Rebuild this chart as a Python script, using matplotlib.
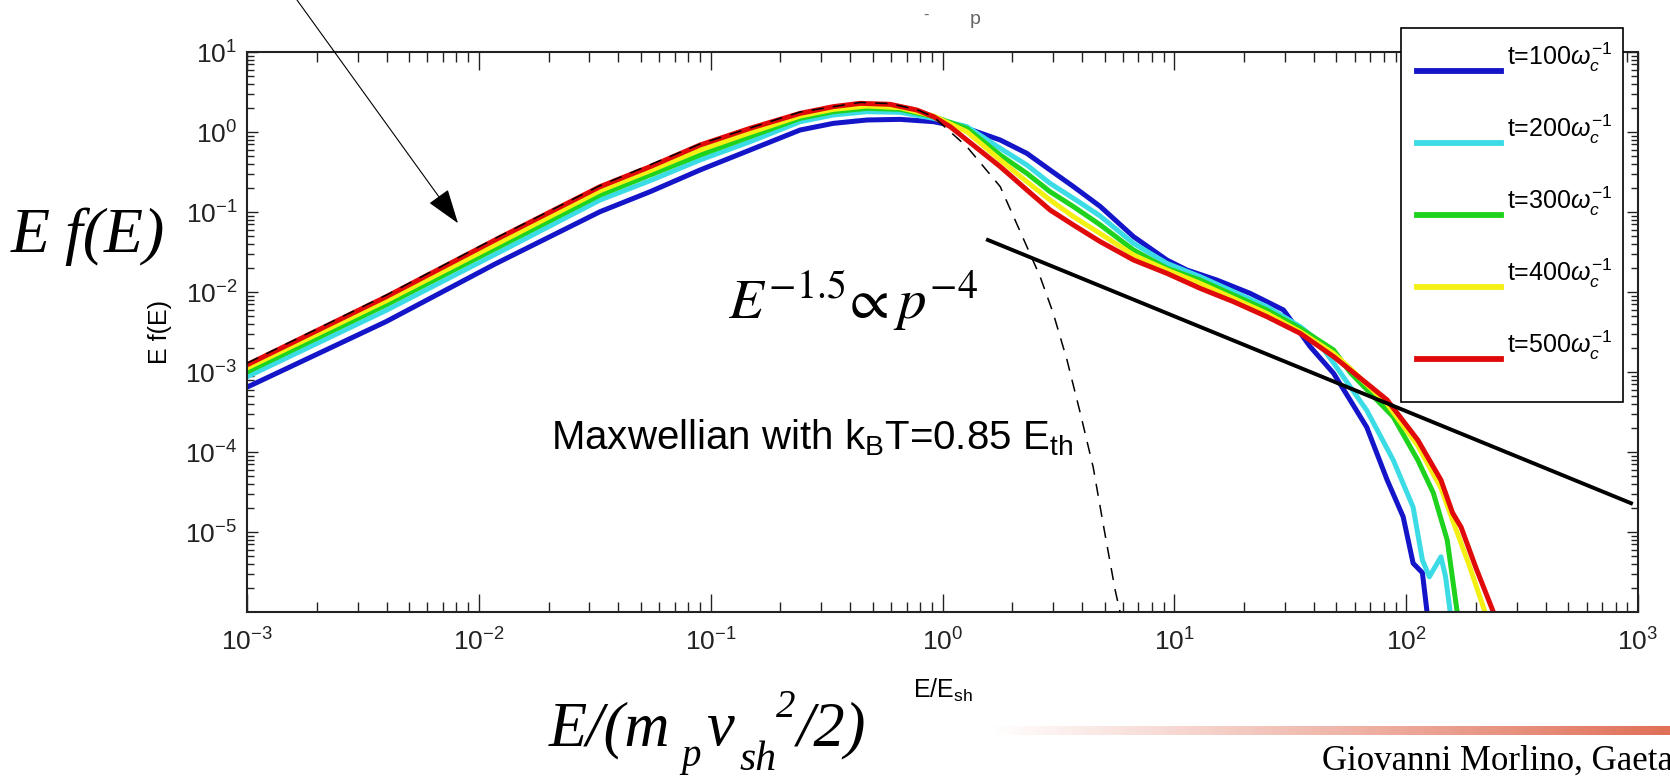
import numpy as np
import matplotlib
matplotlib.use("Agg")
import matplotlib.pyplot as plt
from matplotlib.colors import LinearSegmentedColormap
from matplotlib.lines import Line2D
from matplotlib.patches import Rectangle
from matplotlib.ticker import LogLocator

W, H = 1670, 779

# log10(E/E_sh) and log10(E f(E)), one pair per run
logE_t100 = [-3.0, -2.4, -1.93, -1.477, -1.261, -1.046, -0.830, -0.614, -0.471, -0.326, -0.183,
             -0.039, 0.105, 0.249, 0.364, 0.464, 0.565, 0.680, 0.824, 0.968, 1.054, 1.183, 1.327,
             1.471, 1.586, 1.687, 1.758, 1.83, 1.918, 1.987, 2.03, 2.07, 2.09]
logF_t100 = [-3.19, -2.37, -1.65, -0.996, -0.746, -0.475, -0.225, 0.025, 0.108, 0.15, 0.158,
             0.129, 0.046, -0.10, -0.267, -0.475, -0.683, -0.93, -1.308, -1.60, -1.725, -1.85, -2.017,
             -2.225, -2.683, -3.017, -3.35, -3.69, -4.35, -4.81, -5.39, -5.51, -6.0]

logE_t200 = [-3.0, -2.4, -1.93, -1.477, -1.261, -1.046, -0.830, -0.614, -0.471, -0.326, -0.183,
             -0.039, 0.105, 0.249, 0.364, 0.464, 0.565, 0.680, 0.824, 0.968, 1.111, 1.255, 1.399,
             1.543, 1.615, 1.685, 1.83, 1.944, 2.03, 2.07, 2.10, 2.15, 2.17, 2.19]
logF_t200 = [-3.06, -2.23, -1.53, -0.85, -0.608, -0.35, -0.121, 0.129, 0.2125, 0.254, 0.246,
             0.171, 0.067, -0.204, -0.4125, -0.642, -0.829, -1.05, -1.392, -1.642, -1.808, -1.996,
             -2.183, -2.433, -2.60, -2.88, -3.48, -4.1, -4.69, -5.35, -5.56, -5.31, -5.56, -6.0]

logE_t300 = [-3.0, -2.4, -1.93, -1.477, -1.261, -1.046, -0.830, -0.614, -0.471, -0.326, -0.183,
             -0.039, 0.105, 0.249, 0.364, 0.464, 0.565, 0.680, 0.824, 0.968, 1.111, 1.255, 1.399,
             1.543, 1.687, 1.76, 1.944, 2.05, 2.117, 2.177, 2.22]
logF_t300 = [-3.0, -2.16, -1.46, -0.7875, -0.5375, -0.2875, -0.058, 0.171, 0.254, 0.296, 0.283,
             0.192, 0.046, -0.2875, -0.517, -0.746, -0.933, -1.16, -1.475, -1.704, -1.85, -2.0375,
             -2.225, -2.454, -2.725, -3.01, -3.56, -4.1, -4.51, -5.1, -6.0]

logE_t400 = [-3.0, -2.4, -1.93, -1.477, -1.261, -1.046, -0.830, -0.614, -0.471, -0.326, -0.183,
             -0.039, 0.105, 0.249, 0.364, 0.464, 0.565, 0.680, 0.824, 0.968, 1.111, 1.255, 1.399,
             1.543, 1.687, 1.76, 1.918, 2.05, 2.15, 2.20, 2.27, 2.34]
logF_t400 = [-2.95, -2.11, -1.41, -0.733, -0.483, -0.225, -0.008, 0.20, 0.283, 0.325, 0.304,
             0.20, 0.004, -0.35, -0.621, -0.85, -1.058, -1.27, -1.5375, -1.725, -1.892, -2.079,
             -2.267, -2.496, -2.767, -2.96, -3.40, -3.92, -4.45, -4.85, -5.4, -6.0]

logE_t500 = [-3.0, -2.4, -1.93, -1.477, -1.261, -1.046, -0.830, -0.614, -0.471, -0.355, -0.226,
             -0.111, -0.039, 0.033, 0.105, 0.249, 0.364, 0.464, 0.565, 0.680, 0.824, 0.968, 1.111,
             1.255, 1.399, 1.543, 1.687, 1.830, 1.918, 2.05, 2.15, 2.20, 2.237, 2.30, 2.376]
logF_t500 = [-2.91, -2.06, -1.35, -0.683, -0.433, -0.163, 0.046, 0.233, 0.317, 0.358, 0.346,
             0.275, 0.192, 0.067, -0.10, -0.433, -0.725, -0.975, -1.163, -1.37, -1.60, -1.767, -1.954,
             -2.121, -2.308, -2.517, -2.808, -3.142, -3.35, -3.85, -4.35, -4.76, -4.94, -5.44, -6.0]

# Maxwellian with kT = 0.85 E_th (dashed)
logE_maxw = [-3.0, -2.4, -1.93, -1.477, -1.046, -0.614, -0.355, -0.226, -0.111, -0.039, 0.105,
             0.249, 0.364, 0.421, 0.477, 0.537, 0.594, 0.65, 0.693, 0.745, 0.766]
logF_maxw = [-2.89, -2.04, -1.33, -0.67, -0.15, 0.25, 0.37, 0.355, 0.28, 0.19, -0.183,
             -0.683, -1.433, -1.808, -2.26, -2.85, -3.51, -4.19, -4.9, -5.73, -6.0]

# E^-1.5 guide line end points
guide_E = [1.57, 933.0]
guide_F = [0.0447, 2.29e-5]

labels = [r"t=100$\omega_c^{-1}$", r"t=200$\omega_c^{-1}$", r"t=300$\omega_c^{-1}$",
          r"t=400$\omega_c^{-1}$", r"t=500$\omega_c^{-1}$"]
colors = ["#1414c8", "#3cdce6", "#1ed21e", "#f5f014", "#e00a0a"]

plt.rcParams["font.family"] = ["Liberation Sans", "DejaVu Sans"]
plt.rcParams["mathtext.fontset"] = "custom"
plt.rcParams["mathtext.rm"] = "Liberation Sans"
plt.rcParams["mathtext.it"] = "Liberation Sans:italic"
plt.rcParams["mathtext.bf"] = "Liberation Sans:bold"

fig = plt.figure(figsize=(W / 100, H / 100), dpi=100)
ax = fig.add_axes([247 / W, 1 - 612 / H, 1391 / W, 560 / H])

runs = [(logE_t100, logF_t100), (logE_t200, logF_t200), (logE_t300, logF_t300),
        (logE_t400, logF_t400), (logE_t500, logF_t500)]
for (lx, ly), c, lab in zip(runs, colors, labels):
    ax.plot(10.0 ** np.array(lx), 10.0 ** np.array(ly), color=c, lw=3.6, label=lab, zorder=2)
ax.plot(10.0 ** np.array(logE_maxw), 10.0 ** np.array(logF_maxw), color="k", lw=1.1,
        dashes=(8, 6), zorder=3)
ax.plot(guide_E, guide_F, color="k", lw=2.8, clip_on=False, zorder=4)

ax.set_xscale("log"); ax.set_yscale("log")
ax.set_xlim(1e-3, 1e3); ax.set_ylim(1e-6, 1e1)
ax.set_xticks([10.0 ** k for k in range(-3, 4)])
ax.set_yticks([10.0 ** k for k in range(-5, 2)])
ax.xaxis.set_minor_locator(LogLocator(base=10, subs=np.arange(2, 10), numticks=100))
ax.yaxis.set_minor_locator(LogLocator(base=10, subs=np.arange(2, 10), numticks=100))
ax.tick_params(which="both", direction="in", top=True, right=True, width=1, color="#222222",
               labelsize=19, labelcolor="#222222")
ax.tick_params(axis="x", which="major", length=13, pad=12)
ax.tick_params(axis="x", which="minor", length=7)
ax.tick_params(axis="y", which="major", length=8, pad=7)
ax.tick_params(axis="y", which="minor", length=5)
for s in ax.spines.values():
    s.set_linewidth(1.5); s.set_color("#222222")

ax.set_xlabel(r"E/E$_{\mathrm{sh}}$", fontsize=18)
ax.set_ylabel("E f(E)", fontsize=18)
ax.xaxis.set_label_coords(0.5, -0.116)
ax.yaxis.set_label_coords(-0.054, 0.5)

# MATLAB-style legend box, sitting over the top spine
fig.add_artist(Rectangle((1401 / W, 1 - 402 / H), 222 / W, 374 / H, transform=fig.transFigure,
                         facecolor="white", edgecolor="k", lw=1.2, zorder=5))
for i, (c, lab) in enumerate(zip(colors, labels)):
    y = 71 + 72 * i
    fig.add_artist(Line2D([1417 / W, 1501 / W], [1 - y / H, 1 - y / H],
                          transform=fig.transFigure, color=c, lw=4.2, zorder=6))
    fig.text(1507 / W, 1 - (y - 6) / H, lab, fontsize=18, va="baseline", zorder=6)

ax.text(10 ** -1.69, 10 ** -3.97, r"Maxwellian with k$_{\mathrm{B}}$T=0.85 E$_{\mathrm{th}}$",
        fontsize=29, va="baseline", ha="left")

ax.annotate("", xy=(10 ** -2.09, 10 ** -1.14), xycoords="data",
            xytext=(297 / W, 1.0), textcoords="figure fraction", annotation_clip=False,
            arrowprops=dict(arrowstyle="-|>,head_length=2.2,head_width=0.75", color="k",
                            lw=0.8, mutation_scale=10, shrinkA=0, shrinkB=0))

serif = ["Liberation Serif", "DejaVu Serif"]


def slide_text(x, y, s, size, **kw):
    # slide annotations, placed in figure pixels (y measured from the top)
    return fig.text(x / W, 1 - y / H, s, family=serif, fontsize=size, va="baseline", **kw)


slide_text(11, 252, "E f(E)", 46, style="italic")
fig.text(728 / W, 1 - 318 / H, r"$E^{-1.5}\!\propto p^{-4}$", math_fontfamily="stix",
         fontsize=41, va="baseline")
# E/(m_p v_sh^2/2), laid out like the slide: big lowered subscripts
slide_text(549, 745, "E/(m", 45, style="italic")
slide_text(681, 766, "p", 28, style="italic")
slide_text(706, 745, "v", 45, style="italic")
slide_text(739, 770, "sh", 30, style="italic")
slide_text(776, 717, "2", 28, style="italic")
slide_text(797, 745, "/2)", 45, style="italic")
slide_text(1322, 770, "Giovanni Morlino, Gaeta", 25)
fig.text(923 / W, 1 - 20 / H, "-", color="0.4", fontsize=12, va="baseline")
fig.text(970 / W, 1 - 24 / H, "p", color="0.4", fontsize=14, va="baseline")

gax = fig.add_axes([990 / W, 1 - 735 / H, 680 / W, 9 / H])
gax.imshow(np.linspace(0, 1, 256)[None, :], aspect="auto",
           cmap=LinearSegmentedColormap.from_list("bar", ["white", "#e07058"]))
gax.axis("off")

fig.savefig("out.png", dpi=100)
